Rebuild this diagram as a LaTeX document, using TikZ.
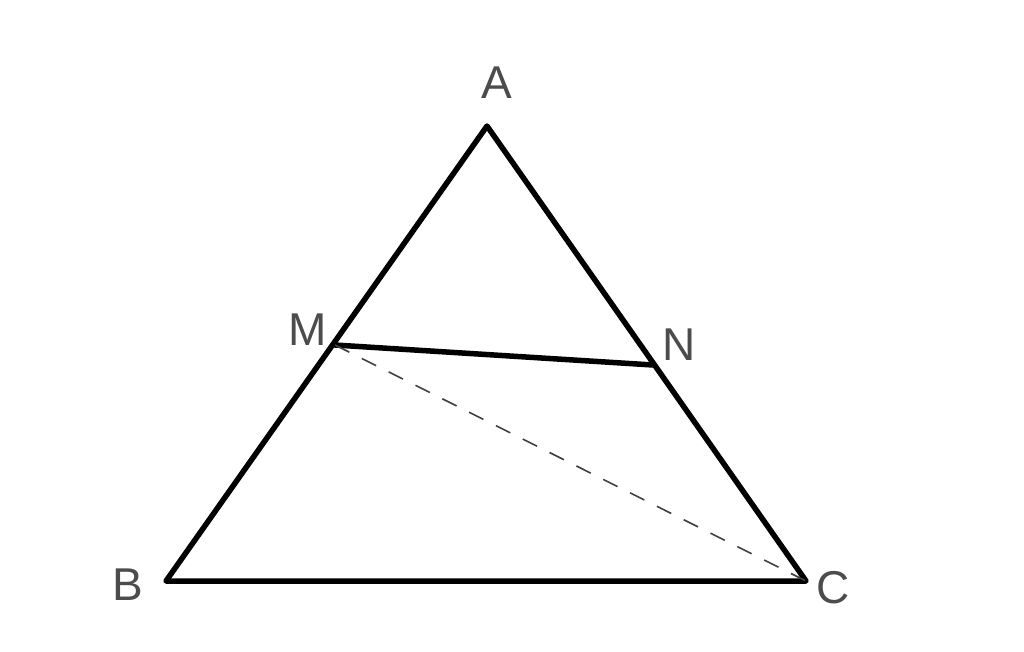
\documentclass[tikz,border=0pt]{standalone}
\usepackage{fontspec}
\setmainfont{Liberation Sans}
\begin{document}
\begin{tikzpicture}[x=1pt,y=-1pt,
  edge/.style={line width=5.5pt,line cap=round,line join=round},
  hidden/.style={line width=1.6pt,dash pattern=on 16pt off 14pt,black!75},
  lbl/.style={font=\fontsize{46}{46}\selectfont,text=black!70,inner sep=0pt}]
\useasboundingbox[fill=white] (0,0) rectangle (1024,651);
\coordinate (A) at (487,126);
\coordinate (B) at (166,581);
\coordinate (C) at (806,581);
\coordinate (M) at (335,345);
\coordinate (N) at (653,365);
\draw[edge] (A) -- (B) -- (C) -- cycle;
\draw[edge] (M) -- (N);
\draw[hidden] (M) -- (C);
\node[lbl] (la) at (497,83) {A};
\node[lbl] (lb) at (128,585) {B};
\node[lbl] (lc) at (833,588) {C};
\node[lbl] (lm) at (308,330) {M};
\node[lbl] (ln) at (679,345) {N};
\end{tikzpicture}
\end{document}
